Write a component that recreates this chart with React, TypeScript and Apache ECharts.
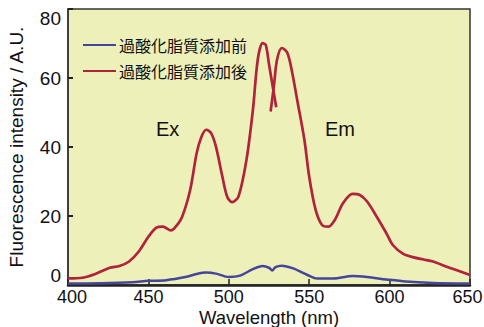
import React, { useEffect, useRef } from "react";
import * as echarts from "echarts";

const xTicks = [400, 450, 500, 550, 600, 650];
const yTicks = [0, 20, 40, 60, 80];

const seriesNames = ["過酸化脂質添加前", "過酸化脂質添加後"];

const beforeWl = [400, 420, 440, 450, 461, 473, 480, 486, 492, 500, 507, 515, 521, 525, 527, 529, 533, 540, 549, 555, 565, 577, 586, 598, 610, 627, 650];
const beforeVal = [0.4, 0.5, 0.8, 1.2, 1.4, 2.3, 3.2, 3.6, 3.3, 2.3, 2.7, 4.6, 5.5, 5.0, 4.2, 5.2, 5.6, 4.8, 2.9, 1.9, 1.9, 2.6, 2.3, 1.6, 1.0, 0.6, 0.4];

const exWl = [400, 409, 417, 426, 432, 438, 444, 450, 455, 459, 464, 467, 471, 476, 480, 483, 486, 489, 492, 496, 499, 502, 506, 511, 515, 518, 521, 523, 525, 527.5, 529.5];
const exVal = [1.9, 2.1, 3.2, 5.0, 5.5, 6.8, 9.7, 14.0, 16.6, 16.9, 15.8, 16.9, 19.8, 27.6, 38.2, 43.0, 45.0, 44.0, 40.1, 31.4, 25.6, 24.0, 25.6, 36.3, 50.8, 65.3, 70.1, 69.6, 64.0, 57.0, 51.5];

const emWl = [526, 528, 530, 533, 536.5, 539.5, 542.5, 547, 550, 554, 558, 562, 566, 571, 577, 581.5, 586, 592, 598, 602, 608.5, 615, 621, 627, 635.5, 644, 650];
const emVal = [50.3, 57.5, 65.3, 68.7, 67.2, 61.4, 53.7, 42.1, 31.4, 21.8, 17.4, 16.9, 18.9, 23.7, 26.4, 26.1, 24.2, 19.8, 15.0, 11.6, 9.0, 8.0, 7.4, 6.8, 5.3, 3.9, 2.9];

const peakLabels = ["Ex", "Em"];
const xTitle = "Wavelength (nm)";
const yTitle = "Fluorescence intensity / A.U.";

const zip = (xs: number[], ys: number[]) => xs.map((x, i) => [x, ys[i]]);

const FONT = '"Liberation Sans", Arial, "Noto Sans CJK JP", sans-serif';
const RED = "#B0233A";
const BLUE = "#45459C";

export default function App() {
  const ref = useRef<HTMLDivElement>(null);
  useEffect(() => {
    if (!ref.current) return;
    const chart = echarts.init(ref.current, undefined, { renderer: "svg" });
    const xMin = xTicks[0];
    const xMax = xTicks[xTicks.length - 1];
    chart.setOption({
      animation: false,
      backgroundColor: "#ffffff",
      textStyle: { fontFamily: FONT },
      grid: {
        left: 68,
        right: 14,
        top: 9,
        bottom: 42,
        outerBoundsMode: "none",
        containLabel: false,
        show: true,
        backgroundColor: "#EEF0BA",
        borderColor: "#333333",
        borderWidth: 1.5,
      },
      legend: {
        data: seriesNames,
        left: 78,
        top: 32,
        orient: "vertical",
        icon: "rect",
        itemWidth: 33,
        itemHeight: 2,
        itemGap: 10,
        textStyle: {
          fontFamily: '"Noto Sans CJK JP", sans-serif',
          fontSize: 16,
          lineHeight: 16,
          color: "#111",
          padding: [0, 0, 0, -2],
        },
      },
      xAxis: {
        type: "value",
        min: xMin,
        max: xMax,
        interval: 50,
        name: xTitle,
        nameLocation: "middle",
        nameGap: 23,
        nameMoveOverlap: false,
        nameTextStyle: {
          fontSize: 18.5,
          color: "#111",
          fontFamily: FONT,
          verticalAlign: "top",
          lineHeight: 18,
        },
        axisLine: { show: true, lineStyle: { color: "#222", width: 2.5 } },
        axisTick: { show: true, inside: true, length: 6, lineStyle: { color: "#222", width: 1.5 } },
        axisLabel: {
          fontSize: 18,
          lineHeight: 17,
          color: "#111",
          margin: 3,
          fontFamily: FONT,
          formatter: (v: number) =>
            v === xMin ? `{l|${v}}` : v === xMax ? `{r|${v}}` : `${v}`,
          rich: {
            l: { fontSize: 18, lineHeight: 17, fontFamily: FONT, color: "#111", padding: [0, 0, 0, 8] },
            r: { fontSize: 18, lineHeight: 17, fontFamily: FONT, color: "#111", padding: [0, 5, 0, 0] },
          },
        },
        splitLine: { show: false },
      },
      yAxis: {
        type: "value",
        min: yTicks[0],
        max: yTicks[yTicks.length - 1],
        interval: 20,
        name: yTitle,
        nameLocation: "middle",
        nameGap: 42,
        nameTextStyle: { fontSize: 19, color: "#111", fontFamily: FONT },
        axisLine: { show: true, lineStyle: { color: "#333", width: 1.5 } },
        axisTick: { show: true, inside: true, length: 5, lineStyle: { color: "#222", width: 2 } },
        axisLabel: {
          fontSize: 19,
          color: "#111",
          margin: 7,
          fontFamily: FONT,
          verticalAlignMinLabel: "bottom",
          verticalAlignMaxLabel: "top",
        },
        splitLine: { show: false },
      },
      series: [
        {
          name: seriesNames[0],
          type: "line",
          data: zip(beforeWl, beforeVal),
          smooth: 0.3,
          showSymbol: false,
          color: BLUE,
          lineStyle: { color: BLUE, width: 2.5 },
          z: 3,
        },
        {
          name: seriesNames[1],
          type: "line",
          data: zip(exWl, exVal),
          smooth: 0.3,
          showSymbol: false,
          color: RED,
          lineStyle: { color: RED, width: 2.7 },
          z: 2,
        },
        {
          name: seriesNames[1],
          type: "line",
          data: zip(emWl, emVal),
          smooth: 0.3,
          showSymbol: false,
          color: RED,
          lineStyle: { color: RED, width: 2.7 },
          z: 2,
        },
      ],
      graphic: [
        {
          type: "text",
          left: 156,
          top: 119,
          style: { text: peakLabels[0], fontSize: 20, fill: "#111", fontFamily: FONT },
        },
        {
          type: "text",
          left: 325,
          top: 119,
          style: { text: peakLabels[1], fontSize: 20, fill: "#111", fontFamily: FONT },
        },
      ],
    });
    return () => chart.dispose();
  }, []);
  return (
    <div
      ref={ref}
      style={{ position: "fixed", left: 0, top: 0, width: 484, height: 327 }}
    />
  );
}
